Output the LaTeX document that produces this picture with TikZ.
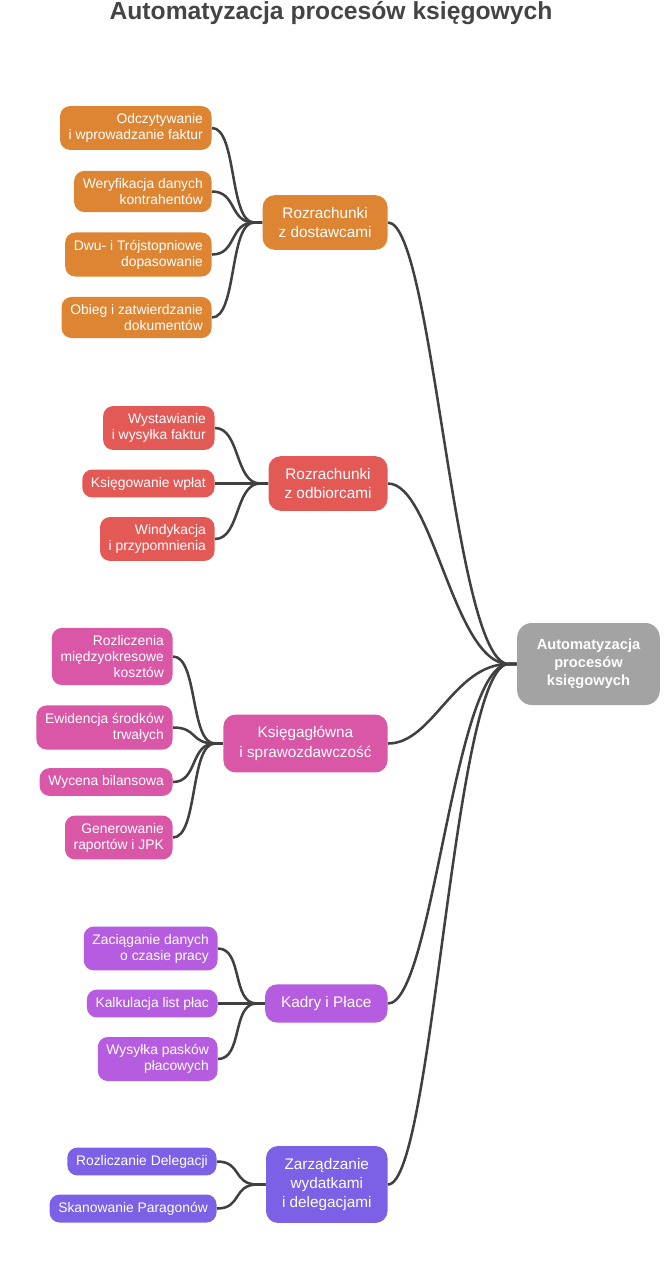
\documentclass[tikz,border=0pt]{standalone}
\usepackage{fontspec}
\setmainfont{Liberation Sans}
\usetikzlibrary{calc}

\definecolor{suppliers}{RGB}{221,133,51}
\definecolor{customers}{RGB}{226,89,86}
\definecolor{ledger}{RGB}{218,86,166}
\definecolor{payroll}{RGB}{181,92,224}
\definecolor{expenses}{RGB}{124,96,230}
\definecolor{rootgray}{RGB}{163,163,163}
\definecolor{linkgray}{RGB}{64,64,64}
\definecolor{titlegray}{RGB}{68,68,68}

\tikzset{every picture/.style={line width=0.75pt}}
\tikzset{
  leaf/.style={rounded corners=7.5pt, text=white, align=right, anchor=east,
    font=\fontsize{10.4}{12}\selectfont, inner xsep=6.5pt, inner ysep=5.6pt},
  branch/.style={rounded corners=9pt, text=white, align=center, anchor=east,
    font=\fontsize{11.5}{14.5}\selectfont, inner xsep=12pt, inner ysep=9pt},
  rootbox/.style={rounded corners=11pt, fill=rootgray, text=white, align=center,
    font=\bfseries\fontsize{11}{13.5}\selectfont, minimum width=107pt, minimum height=61.5pt},
  link/.style={draw=linkgray, line width=1.9pt},
}

\begin{document}
\begin{tikzpicture}[x=0.75pt,y=0.75pt,yscale=-1,xscale=1]
\useasboundingbox (0,0) rectangle (666,1263);

% Title
\node (title) at (331,13) [text=titlegray, font=\bfseries\fontsize{18.5}{21}\selectfont] {Automatyzacja procesów księgowych};

% Root
\node (root) at (588.5,664) [rootbox] {Automatyzacja\\procesów\\księgowych};
\coordinate (hubR) at ($(root.west)+(-8,0)$);

%Rozrachunki z dostawcami
\node (A) at (388,222.5) [branch, fill=suppliers] {Rozrachunki\\z dostawcami};
\node (a1) at (212,128) [leaf, fill=suppliers] {Odczytywanie\\i wprowadzanie faktur};
\node (a2) at (212,191.5) [leaf, fill=suppliers] {Weryfikacja danych\\kontrahentów};
\node (a3) at (212,254.5) [leaf, fill=suppliers] {Dwu- i Trójstopniowe\\dopasowanie};
\node (a4) at (212,317.5) [leaf, fill=suppliers] {Obieg i zatwierdzanie\\dokumentów};
\coordinate (hubA) at ($(A.west)+(-8,0)$);

%Rozrachunki z odbiorcami
\node (B) at (388,483.5) [branch, fill=customers] {Rozrachunki\\z odbiorcami};
\node (b1) at (215,428) [leaf, fill=customers] {Wystawianie\\i wysyłka faktur};
\node (b2) at (215,483.5) [leaf, fill=customers] {Księgowanie wpłat};
\node (b3) at (215,539) [leaf, fill=customers] {Windykacja\\i przypomnienia};
\coordinate (hubB) at ($(B.west)+(-8,0)$);

%Ksiega glowna
\node (C) at (388,743.5) [branch, fill=ledger] {Księgagłówna\\i sprawozdawczość};
\node (c1) at (173,656.5) [leaf, fill=ledger] {Rozliczenia\\międzyokresowe\\kosztów};
\node (c2) at (173,727.5) [leaf, fill=ledger] {Ewidencja środków\\trwałych};
\node (c3) at (173,782) [leaf, fill=ledger] {Wycena bilansowa};
\node (c4) at (173,837.5) [leaf, fill=ledger] {Generowanie\\raportów i JPK};
\coordinate (hubC) at ($(C.west)+(-8,0)$);

%Kadry i place
\node (D) at (388,1003.5) [branch, fill=payroll] {Kadry i Płace};
\node (d1) at (218,948.5) [leaf, fill=payroll] {Zaciąganie danych\\o czasie pracy};
\node (d2) at (218,1003.5) [leaf, fill=payroll] {Kalkulacja list płac};
\node (d3) at (218,1059) [leaf, fill=payroll] {Wysyłka pasków\\płacowych};
\coordinate (hubD) at ($(D.west)+(-8,0)$);

%Wydatki i delegacje
\node (E) at (388,1184.5) [branch, fill=expenses] {Zarządzanie\\wydatkami\\i delegacjami};
\node (e1) at (217,1161.5) [leaf, fill=expenses] {Rozliczanie Delegacji};
\node (e2) at (217,1208.5) [leaf, fill=expenses] {Skanowanie Paragonów};
\coordinate (hubE) at ($(E.west)+(-8,0)$);

% Links leaf -> branch
\foreach \p/\c in {A/a1,A/a2,A/a3,A/a4,B/b1,B/b2,B/b3,C/c1,C/c2,C/c3,C/c4,D/d1,D/d2,D/d3,E/e1,E/e2}
  \draw [link] (\c.east) .. controls +(25,0) and +(-25,0) .. (hub\p) -- (\p.west);

% Links branch -> root
\foreach \p in {A,B,C,D,E}
  \draw [link] (\p.east) .. controls +(45,0) and +(-55,0) .. (hubR) -- (root.west);

\end{tikzpicture}
\end{document}
